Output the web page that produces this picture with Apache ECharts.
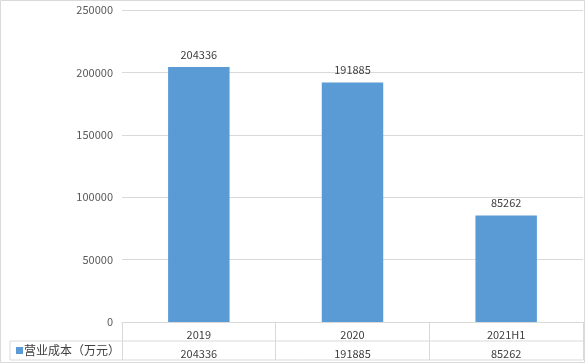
<!DOCTYPE html>
<html><head><meta charset="utf-8">
<script src="https://cdn.jsdelivr.net/npm/echarts@6/dist/echarts.min.js"></script>
<style>html,body{margin:0;padding:0;background:#fff}#c{width:585px;height:363px}</style>
</head><body><div id="c"></div>
<script>
var categories = ['2019', '2020', '2021H1'];
var values = [204336, 191885, 85262];
var seriesName = '营业成本（万元）';
var yTicks = { min: 0, max: 250000, interval: 50000 };

var FONT = '"Microsoft YaHei","Noto Sans CJK SC",sans-serif';
var chart = echarts.init(document.getElementById('c'), null, { renderer: 'canvas' });
var GL = 122, GR = 2, GT = 10, GB = 41;
var line = '#d9d9d9';
chart.setOption({
  animation: false,
  grid: { left: GL, right: GR, top: GT, bottom: GB },
  xAxis: {
    type: 'category', data: categories,
    axisLine: { lineStyle: { color: line } },
    axisTick: { show: true, length: 38, lineStyle: { color: line } },
    axisLabel: {
      margin: 3,
      formatter: function (v, i) { return '{a|' + v + '}\n{b|' + values[i] + '}'; },
      rich: {
        a: { fontSize: 11, lineHeight: 19, color: '#404040', fontFamily: FONT },
        b: { fontSize: 11, lineHeight: 19, color: '#404040', fontFamily: FONT }
      }
    }
  },
  yAxis: {
    type: 'value', min: yTicks.min, max: yTicks.max, interval: yTicks.interval,
    axisLine: { show: false }, axisTick: { show: false },
    splitLine: { lineStyle: { color: line } },
    axisLabel: { margin: 9, fontSize: 11, color: '#595959', fontFamily: FONT, formatter: function (v) { return String(v); } }
  },
  series: [{
    name: seriesName, type: 'bar', data: values, barWidth: '40%',
    itemStyle: { color: '#5b9bd5' },
    label: { show: true, position: 'top', distance: 7, fontSize: 11, color: '#404040', fontFamily: FONT }
  }]
});
var y0 = chart.convertToPixel({ yAxisIndex: 0 }, 0);
var right = 585 - GR;
chart.setOption({
  graphic: [
    { type: 'rect', shape: { x: 0.5, y: 0.5, width: 584, height: 362 }, style: { fill: 'none', stroke: line }, silent: true },
    { type: 'line', shape: { x1: 10, y1: y0 + 19, x2: right, y2: y0 + 19 }, style: { stroke: line } },
    { type: 'line', shape: { x1: 10, y1: y0 + 38, x2: right, y2: y0 + 38 }, style: { stroke: line } },
    { type: 'line', shape: { x1: 10, y1: y0 + 19, x2: 10, y2: y0 + 38 }, style: { stroke: line } },
    { type: 'rect', shape: { x: 16, y: y0 + 25, width: 7, height: 7 }, style: { fill: '#5b9bd5' } },
    { type: 'text', x: 24, y: y0 + 28.5, style: { text: seriesName, fontSize: 12, fill: '#404040', fontFamily: FONT, verticalAlign: 'middle' } }
  ]
});
</script></body></html>
